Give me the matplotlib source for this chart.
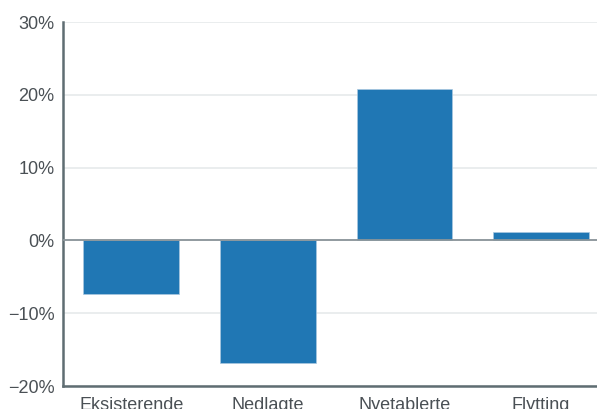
import matplotlib.pyplot as plt
import numpy as np

categories = ["Eksisterende", "Nedlagte", "Nyetablerte", "Flytting"]
values = [-7.4, -16.9, 20.8, 1.1]
yticks = [-20, -10, 0, 10, 20, 30]

plt.rcParams['font.family'] = ['Liberation Sans', 'DejaVu Sans']

fig = plt.figure(figsize=(5.97, 4.09), dpi=100)
ax = fig.add_axes([0.1055, 0.0562, 0.8945, 0.8898])

x = np.arange(len(categories))
ax.bar(x, values, width=0.7, color="#2077b4", edgecolor="#a9c8e0", linewidth=0.5, zorder=3)

ax.set_xlim(-0.5, 3.41)
ax.set_ylim(-20, 30)
ax.set_yticks(yticks)
ax.set_yticklabels([f"{t}%".replace("-", "\u2212") for t in yticks])
ax.set_xticks(x)
ax.set_xticklabels(categories)

ax.grid(axis="y", color="#e6eaeb", linewidth=1.2, zorder=0)
ax.axhline(0, color="#8a9499", linewidth=1.3, zorder=4)

for s in ["top", "right"]:
    ax.spines[s].set_visible(False)
for s in ["left", "bottom"]:
    ax.spines[s].set_color("#5f6d72")
    ax.spines[s].set_linewidth(1.8)

ax.tick_params(axis="both", length=0, labelsize=13, labelcolor="#4a5055")
ax.tick_params(axis="y", pad=6)
ax.tick_params(axis="x", pad=8)

fig.savefig("out.png", dpi=100)
